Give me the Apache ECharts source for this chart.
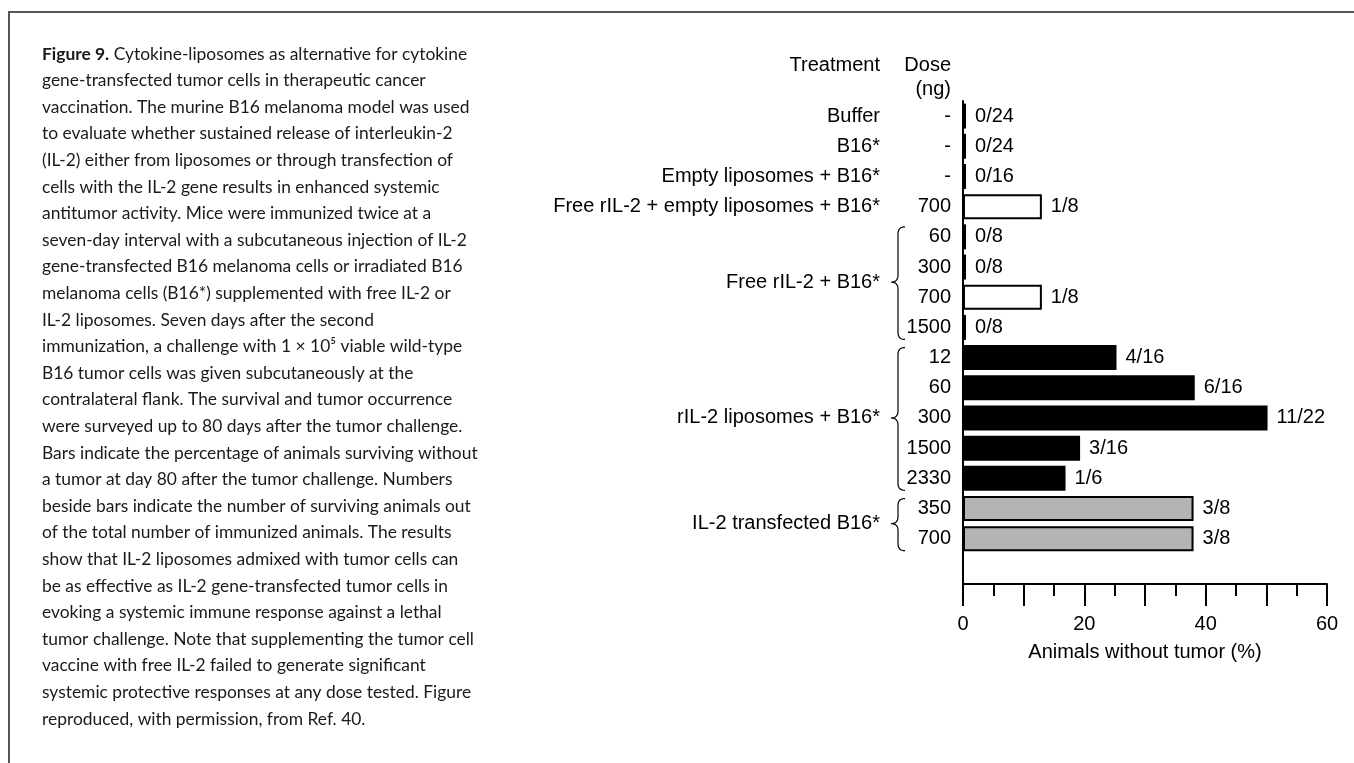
<!DOCTYPE html>
<html>
<head>
<meta charset="utf-8">
<title>Figure 9</title>
<script src="https://cdn.jsdelivr.net/npm/echarts@6/dist/echarts.min.js"></script>
<style>
  html, body { margin: 0; padding: 0; background: #fff; }
  #main { width: 1354px; height: 763px; }
</style>
</head>
<body>
<div id="main"></div>
<script>
// rows from top to bottom
const doses = ["-", "-", "-", "700", "60", "300", "700", "1500", "12", "60", "300", "1500", "2330", "350", "700"];
const survivors = ["0/24", "0/24", "0/16", "1/8", "0/8", "0/8", "1/8", "0/8", "4/16", "6/16", "11/22", "3/16", "1/6", "3/8", "3/8"];
// bar length (0/x groups are drawn as a thin line)
const animalsWithoutTumor = [0.5, 0.5, 0.5, 13, 0.5, 0.5, 13, 0.5, 25.3, 38.2, 50.2, 19.3, 16.9, 38, 38];
const rowTreatment = ["Buffer", "B16*", "Empty liposomes + B16*", "Free rIL-2 + empty liposomes + B16*",
  "Free rIL-2 + B16*", "Free rIL-2 + B16*", "Free rIL-2 + B16*", "Free rIL-2 + B16*",
  "rIL-2 liposomes + B16*", "rIL-2 liposomes + B16*", "rIL-2 liposomes + B16*", "rIL-2 liposomes + B16*", "rIL-2 liposomes + B16*",
  "IL-2 transfected B16*", "IL-2 transfected B16*"];
const xTicks = [0, 20, 40, 60];

const captionLines = [
  "{b|Figure 9.} Cytokine-liposomes as alternative for cytokine",
  "gene-transfected tumor cells in therapeutic cancer",
  "vaccination. The murine B16 melanoma model was used",
  "to evaluate whether sustained release of interleukin-2",
  "(IL-2) either from liposomes or through transfection of",
  "cells with the IL-2 gene results in enhanced systemic",
  "antitumor activity. Mice were immunized twice at a",
  "seven-day interval with a subcutaneous injection of IL-2",
  "gene-transfected B16 melanoma cells or irradiated B16",
  "melanoma cells (B16*) supplemented with free IL-2 or",
  "IL-2 liposomes. Seven days after the second",
  "immunization, a challenge with 1 \u00d7 10\u2075 viable wild-type",
  "B16 tumor cells was given subcutaneously at the",
  "contralateral flank. The survival and tumor occurrence",
  "were surveyed up to 80 days after the tumor challenge.",
  "Bars indicate the percentage of animals surviving without",
  "a tumor at day 80 after the tumor challenge. Numbers",
  "beside bars indicate the number of surviving animals out",
  "of the total number of immunized animals. The results",
  "show that IL-2 liposomes admixed with tumor cells can",
  "be as effective as IL-2 gene-transfected tumor cells in",
  "evoking a systemic immune response against a lethal",
  "tumor challenge. Note that supplementing the tumor cell",
  "vaccine with free IL-2 failed to generate significant",
  "systemic protective responses at any dose tested. Figure",
  "reproduced, with permission, from Ref. 40."
];

const chartFont = "Liberation Sans, Arial, sans-serif";
const captionFont = "Lato, sans-serif";

const chart = echarts.init(document.getElementById("main"));

function barStyle(treatment) {
  if (treatment.indexOf("Free rIL-2") === 0) {
    return { color: "#fff", borderColor: "#000", borderWidth: 2 };
  }
  if (treatment === "IL-2 transfected B16*") {
    return { color: "#b4b4b4", borderColor: "#000", borderWidth: 2 };
  }
  return { color: "#000" };
}

const categories = doses.map((d, i) => "r" + i).concat(["blank"]);

let option = {
  animation: false,
  grid: { left: 963, right: 27, top: 101, bottom: 179 },
  xAxis: {
    type: "value",
    min: 0,
    max: 60,
    interval: 10,
    name: "Animals without tumor (%)",
    nameLocation: "middle",
    nameGap: 58,
    nameTextStyle: { fontFamily: chartFont, fontSize: 20, color: "#000" },
    axisLine: { show: true, lineStyle: { color: "#000", width: 2 } },
    axisTick: { show: true, length: 22, lineStyle: { color: "#000", width: 2 } },
    minorTick: { show: true, splitNumber: 2, length: 12, lineStyle: { color: "#000", width: 2 } },
    splitLine: { show: false },
    axisLabel: {
      margin: 30,
      fontFamily: chartFont,
      fontSize: 20,
      color: "#000",
      formatter: (v) => (xTicks.indexOf(v) >= 0 ? String(v) : ""),
    },
  },
  yAxis: {
    type: "category",
    inverse: true,
    data: categories,
    axisLine: { show: true, lineStyle: { color: "#000", width: 2 } },
    axisTick: { show: false },
    splitLine: { show: false },
    axisLabel: {
      margin: 12,
      fontFamily: chartFont,
      fontSize: 20,
      color: "#000",
      formatter: (v, i) => (i < doses.length ? doses[i] : ""),
    },
  },
  series: [
    {
      type: "bar",
      barWidth: 25,
      data: animalsWithoutTumor.map((v, i) => ({
        value: v,
        itemStyle: barStyle(rowTreatment[i]),
      })),
      label: {
        show: true,
        position: "right",
        distance: 9,
        fontFamily: chartFont,
        fontSize: 20,
        color: "#000",
        formatter: (p) => survivors[p.dataIndex],
      },
    },
  ],
};

chart.setOption(option);

// treatment names and braces, placed from the category axis
const graphics = [];
const axisX = chart.convertToPixel({ gridIndex: 0 }, [0, 0])[0];
const rowY = (i) => chart.convertToPixel({ yAxisIndex: 0 }, "r" + i);
const labelRight = 881;
const tipX = 905, spineX = 898, pointX = 891;

// quadratic curve sampled into points
function quad(p0, c, p1, n) {
  const pts = [];
  for (let k = 0; k <= n; k++) {
    const t = k / n;
    const a = (1 - t) * (1 - t), b = 2 * (1 - t) * t, d = t * t;
    pts.push([a * p0[0] + b * c[0] + d * p1[0], a * p0[1] + b * c[1] + d * p1[1]]);
  }
  return pts;
}

function bracePoints(top, mid, bot) {
  const r = 7;
  return [].concat(
    quad([tipX, top], [spineX, top], [spineX, top + r], 8),
    quad([spineX, mid - r], [spineX, mid], [pointX, mid], 8),
    quad([pointX, mid], [spineX, mid], [spineX, mid + r], 8),
    quad([spineX, bot - r], [spineX, bot], [tipX, bot], 8)
  );
}

let start = 0;
while (start < rowTreatment.length) {
  let end = start;
  while (end + 1 < rowTreatment.length && rowTreatment[end + 1] === rowTreatment[start]) end++;
  const y0 = rowY(start), y1 = rowY(end);
  const midY = (y0 + y1) / 2;
  graphics.push({
    type: "text",
    x: labelRight - 1,
    y: midY,
    style: {
      text: rowTreatment[start],
      font: "20px " + chartFont,
      fill: "#000",
      align: "right",
      verticalAlign: "middle",
    },
  });
  if (end > start) {
    graphics.push({
      type: "polyline",
      shape: { points: bracePoints(y0 - 10, midY, y1 + 12) },
      style: { fill: null, stroke: "#000", lineWidth: 1.2 },
    });
  }
  start = end + 1;
}

// column headers
graphics.push({
  type: "text", x: labelRight - 1, y: 65,
  style: { text: "Treatment", font: "20px " + chartFont, fill: "#000", align: "right", verticalAlign: "middle" },
});
graphics.push({
  type: "text", x: axisX - 12, y: 65,
  style: { text: "Dose", font: "20px " + chartFont, fill: "#000", align: "right", verticalAlign: "middle" },
});
graphics.push({
  type: "text", x: axisX - 12, y: 89,
  style: { text: "(ng)", font: "20px " + chartFont, fill: "#000", align: "right", verticalAlign: "middle" },
});

// frame around the figure
graphics.push({
  type: "polyline",
  shape: { points: [[9, 763], [9, 12], [1354, 12]] },
  style: { stroke: "#555", lineWidth: 2, fill: null },
});

// caption
captionLines.forEach((line, i) => {
  graphics.push({
    type: "text",
    x: 42,
    y: 54 + i * 26.6,
    style: {
      text: line,
      font: "17.4px " + captionFont,
      fill: "#1a1a1a",
      verticalAlign: "middle",
      rich: {
        b: { fontFamily: captionFont, fontSize: 17.4, fontWeight: "bold", fill: "#1a1a1a" },
      },
    },
  });
});

chart.setOption({ graphic: graphics });
</script>
</body>
</html>
